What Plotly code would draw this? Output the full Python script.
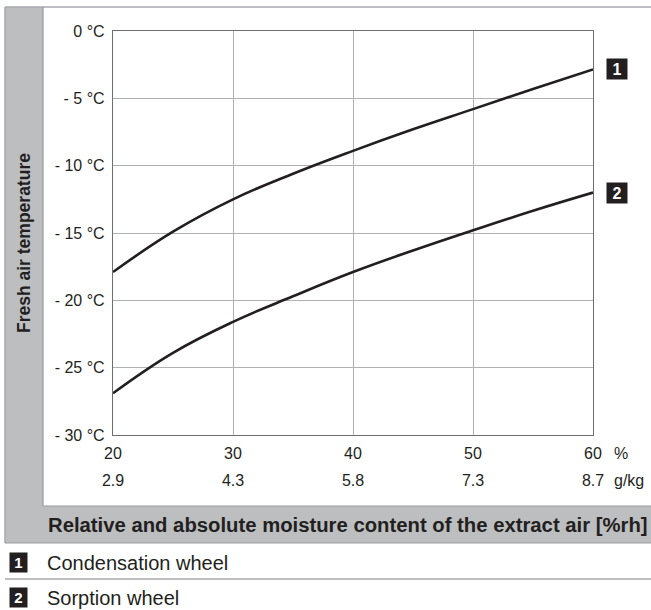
import plotly.graph_objects as go

# relative humidity of the extract air [%] and fresh air temperature [°C]
rh = [20, 25, 30, 35, 40, 45, 50, 55, 60]
condensation_wheel = [-17.9, -14.9, -12.5, -10.6, -8.9, -7.3, -5.8, -4.3, -2.85]
sorption_wheel = [-26.9, -23.9, -21.6, -19.7, -17.9, -16.3, -14.8, -13.35, -12.0]

rh_ticks = [20, 30, 40, 50, 60]
abs_labels = ["2.9", "4.3", "5.8", "7.3", "8.7"]
temp_ticks = [0, -5, -10, -15, -20, -25, -30]
temp_labels = ["0 °C", "- 5 °C", "- 10 °C", "- 15 °C", "- 20 °C", "- 25 °C", "- 30 °C"]
curve_names = ["Condensation wheel", "Sorption wheel"]

FONT = "Liberation Sans, Arial, sans-serif"
INK = "#231f20"
GREY = "#bcbec0"
EDGE = "#a7a9ac"

W, H = 651, 610
L, R, T, PB = 113, 593, 31, 467
PLOT_BOTTOM = 435


def xp(px):
    return (px - L) / (R - L)


def yp(py):
    return (PB - py) / (PB - T)


fig = go.Figure()
for name, values in zip(curve_names, [condensation_wheel, sorption_wheel]):
    fig.add_scatter(
        x=rh, y=values, mode="lines", name=name,
        line={"color": INK, "width": 2.6, "shape": "spline", "smoothing": 1.2},
        hoverinfo="skip",
    )

shapes = [
    # grey frame: left strip and bottom band
    {"type": "rect", "x0": xp(5), "x1": xp(43), "y0": yp(7), "y1": yp(543), "fillcolor": GREY, "line": {"width": 0}},
    {"type": "rect", "x0": xp(5), "x1": xp(651), "y0": yp(506), "y1": yp(543), "fillcolor": GREY, "line": {"width": 0}},
    {"type": "line", "x0": xp(5), "x1": xp(651), "y0": yp(7), "y1": yp(7), "line": {"color": EDGE, "width": 1.5}},
    {"type": "line", "x0": xp(5), "x1": xp(5), "y0": yp(7), "y1": yp(543), "line": {"color": EDGE, "width": 1.5}},
    {"type": "line", "x0": xp(43), "x1": xp(43), "y0": yp(7), "y1": yp(506), "line": {"color": "#999b9e", "width": 1.2}},
    {"type": "line", "x0": xp(43), "x1": xp(651), "y0": yp(506), "y1": yp(506), "line": {"color": "#999b9e", "width": 1.2}},
    {"type": "line", "x0": xp(5), "x1": xp(651), "y0": yp(543), "y1": yp(543), "line": {"color": "#999b9e", "width": 1.2}},
    # separator between the legend rows
    {"type": "line", "x0": xp(5), "x1": xp(651), "y0": yp(579), "y1": yp(579), "line": {"color": EDGE, "width": 1.5}},
]
for s in shapes:
    s.update(xref="paper", yref="paper", layer="below")

annotations = [
    {"text": "<b>Fresh air temperature</b>", "x": xp(24), "y": yp(243), "textangle": -90,
     "font": {"size": 17.5}},
    {"text": "<b>Relative and absolute moisture content of the extract air [%rh]</b>", "x": xp(46), "y": yp(525),
     "xanchor": "left", "font": {"size": 20.3}},
    {"text": "%", "x": xp(612), "y": yp(453), "xanchor": "left", "font": {"size": 16}},
    {"text": "g/kg", "x": xp(612), "y": yp(480.5), "xanchor": "left", "font": {"size": 16}},
]
for i, (name, values) in enumerate(zip(curve_names, [condensation_wheel, sorption_wheel])):
    number = str(i + 1)
    # numbered tag at the end of each curve
    annotations.append({
        "text": f"<b>{number}</b>", "x": xp(616.5), "y": values[-1], "yref": "y",
        "bgcolor": INK, "width": 20, "height": 20, "borderpad": 0,
        "font": {"size": 16, "color": "white"},
    })
    row_y = [562.5, 597.5][i]
    annotations.append({
        "text": f"<b>{number}</b>", "x": xp(18.5), "y": yp(row_y),
        "bgcolor": INK, "width": 17, "height": 19, "borderpad": 0,
        "font": {"size": 15, "color": "white"},
    })
    annotations.append({
        "text": name, "x": xp(45), "y": yp(row_y), "xanchor": "left",
        "font": {"size": 20},
    })
for a in annotations:
    a.setdefault("xref", "paper")
    a.setdefault("yref", "paper")
    a.setdefault("xanchor", "center")
    a.setdefault("yanchor", "middle")
    a["font"] = {"family": FONT, "color": INK, **a["font"]}
    a["showarrow"] = False

fig.update_layout(
    width=W, height=H,
    margin={"l": L, "r": W - R, "t": T, "b": H - PB, "pad": 0},
    paper_bgcolor="white", plot_bgcolor="white",
    showlegend=False,
    font={"family": FONT, "size": 16, "color": INK},
    shapes=shapes,
    annotations=annotations,
    xaxis={
        "range": [20, 60], "tickvals": rh_ticks, "ticktext": [str(v) for v in rh_ticks],
        "showgrid": True, "gridcolor": "#b1b1b1", "gridwidth": 1,
        "showline": True, "linecolor": "#6d6e71", "linewidth": 1.3, "mirror": True,
        "ticks": "", "ticklabelstandoff": 4, "zeroline": False, "fixedrange": True,
    },
    xaxis2={
        "overlaying": "x", "matches": "x", "anchor": "free", "position": 0, "side": "bottom",
        "tickvals": rh_ticks, "ticktext": abs_labels, "showgrid": False, "showline": False,
        "ticks": "", "ticklabelstandoff": 2, "zeroline": False,
    },
    yaxis={
        "range": [-30, 0], "domain": [yp(PLOT_BOTTOM), 1],
        "tickvals": temp_ticks, "ticktext": temp_labels,
        "showgrid": True, "gridcolor": "#b1b1b1", "gridwidth": 1,
        "showline": True, "linecolor": "#6d6e71", "linewidth": 1.3, "mirror": True,
        "ticks": "", "ticklabelstandoff": 4, "zeroline": False, "fixedrange": True,
    },
)
fig.add_scatter(x=[rh[0]], y=[sorption_wheel[0]], xaxis="x2", mode="markers",
                marker={"opacity": 0}, hoverinfo="skip", showlegend=False)

fig.write_html("out.html", config={"displayModeBar": False},
               post_script="document.body.style.margin='0';")
